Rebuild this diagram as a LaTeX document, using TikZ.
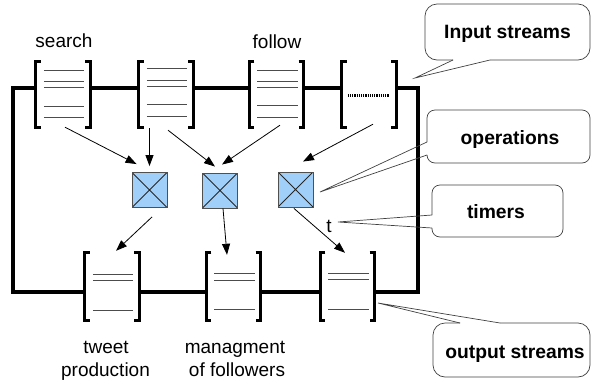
\documentclass[tikz,border=0pt]{standalone}
\usepackage{fontspec}
\setmainfont{Liberation Sans}
\usetikzlibrary{arrows.meta,calc}
\definecolor{opfill}{RGB}{160,208,250}
\definecolor{opline}{RGB}{80,80,80}
\tikzset{
 qbox/.style={rectangle, inner sep=0pt, minimum width=54pt, minimum height=65pt},
 qboxb/.style={rectangle, inner sep=0pt, minimum width=54pt, minimum height=67pt},
 obox/.style={rectangle, draw=opline, line width=0.9pt, fill=opfill, minimum size=35pt, inner sep=0pt,
   path picture={\draw[line width=0.8pt,black!85] (path picture bounding box.north west) -- (path picture bounding box.south east) (path picture bounding box.north east) -- (path picture bounding box.south west);}},
 mainline/.style={line width=3.2pt, line join=miter},
 brk/.style={line width=3.2pt},
 innerln/.style={line width=0.9pt, black!70},
 arr/.style={line width=0.8pt, -{Triangle[length=11pt,width=8pt]}},
 lbl/.style={font=\fontsize{19}{22}\selectfont, inner sep=0pt, anchor=base},
 blbl/.style={font=\fontsize{19.3}{22}\selectfont\bfseries, inner sep=0pt, anchor=base},
 callout/.style={draw=black!75, line width=0.7pt},
 tailln/.style={draw=black!75, line width=0.7pt, line join=miter},
}
\newcommand\mybrackets[1]{%
  \draw[brk] ([shift={(5,0)}]#1.north west) -- (#1.north west) -- (#1.south west) -- ([shift={(5,0)}]#1.south west);
  \draw[brk] ([shift={(-5,0)}]#1.north east) -- (#1.north east) -- (#1.south east) -- ([shift={(-5,0)}]#1.south east);}
\newcommand\myinner[2]{%
  \foreach \yy in {#2} {\draw[innerln] ([shift={(8,\yy)}]#1.north west) -- ([shift={(-6,\yy)}]#1.north east);}}
\begin{document}
\begin{tikzpicture}[x=1pt,y=-1pt]
\useasboundingbox (0,0) rectangle (592,381);
% frame corners
\coordinate (TL) at (13,88);
\coordinate (TR) at (418,88);
\coordinate (BL) at (13,292);
\coordinate (BR) at (418,292);
% input stream boxes
\node[qbox] (s1) at (63,94.5) {};
\node[qbox] (s2) at (166,94.5) {};
\node[qbox] (s3) at (276.5,94.5) {};
\node[qbox] (s4) at (369,94.5) {};
% output stream boxes
\node[qboxb] (b1) at (112,286.5) {};
\node[qboxb] (b2) at (233.5,286.5) {};
\node[qboxb] (b3) at (347.5,286.5) {};
% main lines
\draw[mainline] (s1.west |- TL) -- (TL) -- (BL) -- (b1.west |- BL);
\draw[mainline] (s1.east |- TL) -- (s2.west |- TL);
\draw[mainline] (s2.east |- TL) -- (s3.west |- TL);
\draw[mainline] (s3.east |- TL) -- (s4.west |- TL);
\draw[mainline] (s4.east |- TL) -- (TR) -- (BR) -- (b3.east |- BR);
\draw[mainline] (b1.east |- BL) -- (b2.west |- BL);
\draw[mainline] (b2.east |- BL) -- (b3.west |- BL);
% brackets
\mybrackets{s1}\mybrackets{s2}\mybrackets{s3}\mybrackets{s4}
\mybrackets{b1}\mybrackets{b2}\mybrackets{b3}
% inner lines
\myinner{s1}{9,20,26,45,56}
\myinner{s2}{7,19,25,43,55}
\myinner{s3}{9,20,26,44,56}
\draw[line width=3pt, dash pattern=on 1.2pt off 1pt] ([shift={(6,34)}]s4.north west) -- ([shift={(-7,34)}]s4.north east);
\myinner{b1}{22,28,58}
\myinner{b2}{21,28,57}
\myinner{b3}{21,27,57}
% operations
\node[obox] (o1) at (149.5,190) {};
\node[obox] (o2) at (220,190.5) {};
\node[obox] (o3) at (295.5,189.5) {};
% arrows in
\draw[arr] ([shift={(2,0)}]s1.south) -- ([shift={(5,-8)}]o1.north west);
\draw[arr] ([shift={(0,1)}]o1.north |- s2.south) -- ([shift={(0,-6)}]o1.north);
\draw[arr] ([shift={(2,3)}]s2.south) -- ([shift={(-5,-6)}]o2.north);
\draw[arr] ([shift={(3.5,-2)}]s3.south) -- ([shift={(2,-8)}]o2.north);
\draw[arr] ([shift={(4,-3)}]s4.south) -- ([shift={(7.5,-10)}]o3.north);
% arrows out
\draw[arr] ([shift={(2.5,9)}]o1.south) -- ([shift={(4,-2)}]b1.north);
\draw[arr] ([shift={(3,0)}]o2.south) -- ([shift={(-6.5,2)}]b2.north);
\draw[arr] ([shift={(-1.5,1)}]o3.south) -- ([shift={(-2.5,0)}]b3.north);
% labels
\node[lbl] (tsearch) at (64,47) {search};
\node[lbl] (tfollow) at (277,48) {follow};
\node[lbl] (ttweet) at (106,353) {tweet};
\node[lbl] (tprod) at (105.5,376) {production};
\node[lbl] (tman) at (235,353) {managment};
\node[lbl] (tof) at (237,376) {of followers};
\node[lbl] (tt) at (329,232) {t};
% callouts
\coordinate (pin) at (415,78);
\coordinate (pop) at (320,192);
\coordinate (ptim) at (338,222);
\coordinate (pout) at (378,303);
\draw[callout] (490,60) [rounded corners=12pt] -- (590,60) -- (590,4) -- (425,4) -- (425,60) -- (453,60);
\draw[tailln] (453,60) -- (pin) -- (490,60);
\draw[callout] (427,155) [rounded corners=8pt] -- (427,163) -- (590,163) -- (590,110) -- (427,110) -- (427,142);
\draw[tailln] (427,142) -- (pop) -- (427,155);
\draw[callout] (432,228) [rounded corners=8pt] -- (432,237) -- (563,237) -- (563,185) -- (432,185) -- (432,215);
\draw[tailln] (432,215) -- (ptim) -- (432,228);
\draw[callout] (500,323) [rounded corners=12pt] -- (590,323) -- (590,377) -- (433,377) -- (433,323) -- (460,323);
\draw[tailln] (460,323) -- (pout) -- (500,323);
\node[blbl] (tin) at (507.5,38) {Input streams};
\node[blbl] (tops) at (510,144) {operations};
\node[blbl] (ttim) at (496,218) {timers};
\node[blbl] (tout) at (515,358) {output streams};
\end{tikzpicture}
\end{document}
